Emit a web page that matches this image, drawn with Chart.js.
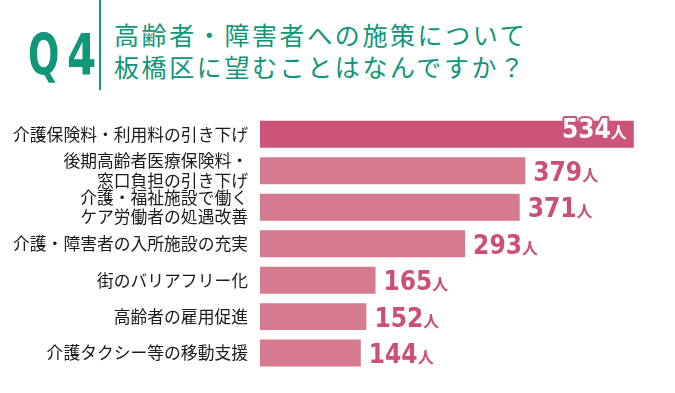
<!DOCTYPE html>
<html lang="ja">
<head>
<meta charset="UTF-8">
<title>Q4</title>
<script src="https://cdn.jsdelivr.net/npm/chart.js"></script>
<style>
    html, body { margin: 0; padding: 0; background: #fff; }
    #wrap { position: relative; width: 675px; height: 393px; overflow: hidden; }
    .q { position: absolute; top: 20px; font-family: "Liberation Sans Narrow", "DejaVu Sans Condensed", sans-serif;
         font-weight: bold; font-size: 57px; line-height: 70px; color: #109679; transform-origin: left top; }
    #q1 { left: 28px; transform: scaleX(0.72); }
    #q2 { left: 67px; transform: scaleX(0.82); }
    #bar { position: absolute; left: 99px; top: 0; width: 2px; height: 90px; background: #109679; }
    #ttl { position: absolute; left: 114px; top: 18px; font-family: "Noto Sans CJK JP", sans-serif; font-size: 25px;
           line-height: 32px; letter-spacing: 2.6px; color: #109679; white-space: nowrap; }
    canvas { position: absolute; left: 0; top: 0; }
</style>
</head>
<body>
<div id="wrap">
    <div class="q" id="q1">Q</div><div class="q" id="q2">4</div>
    <div id="bar"></div>
    <div id="ttl">高齢者・障害者への施策について<br>板橋区に望むことはなんですか？</div>
    <canvas id="myChart" width="675" height="393"></canvas>
</div>
<script>
    // 項目名
    const labels = [
        '介護保険料・利用料の引き下げ',
        ['後期高齢者医療保険料・', '窓口負担の引き下げ'],
        ['介護・福祉施設で働く', 'ケア労働者の処遇改善'],
        '介護・障害者の入所施設の充実',
        '街のバリアフリー化',
        '高齢者の雇用促進',
        '介護タクシー等の移動支援'
    ];
    // 回答数(人)
    const counts = [534, 379, 371, 293, 165, 152, 144];
    const unit = '人';

    const barColors = counts.map((v, i) => i === 0 ? '#CC5479' : '#D67A8F');
    const numFont = '"Liberation Sans Narrow", "DejaVu Sans Condensed", sans-serif';

    // 数値ラベルを描く
    const valueLabels = {
        id: 'valueLabels',
        afterDatasetsDraw(chart) {
            const ctx = chart.ctx;
            const meta = chart.getDatasetMeta(0);
            ctx.save();
            ctx.textBaseline = 'alphabetic';
            meta.data.forEach((bar, i) => {
                const num = String(counts[i]);
                ctx.font = 'bold 26px ' + numFont;
                ctx.letterSpacing = '0px';
                const wNum = ctx.measureText(num).width;
                ctx.font = 'bold 16px "Noto Sans CJK JP"';
                const wUnit = ctx.measureText(unit).width;
                let x, base;
                if (i === 0) {
                    // 一番上だけバーの中に白文字
                    x = bar.x - 7 - wNum - wUnit;
                    base = bar.y + 4;
                } else {
                    x = bar.x + 8;
                    base = bar.y + 10;
                }
                ctx.font = 'bold 26px ' + numFont;
                if (i === 0) {
                    ctx.lineJoin = 'round';
                    ctx.lineWidth = 4;
                    ctx.strokeStyle = '#CC5479';
                    ctx.strokeText(num, x, base);
                    ctx.fillStyle = '#ffffff';
                } else {
                    ctx.fillStyle = '#CC4F78';
                }
                ctx.fillText(num, x, base);
                ctx.font = 'bold 16px "Noto Sans CJK JP"';
                if (i === 0) {
                    ctx.strokeText(unit, x + wNum, base);
                }
                ctx.fillText(unit, x + wNum, base);
            });
            ctx.restore();
        }
    };

    const ctxBar = document.getElementById('myChart').getContext('2d');
    const myChart = new Chart(ctxBar, {
        type: 'bar',
        data: {
            labels: labels,
            datasets: [{
                data: counts,
                backgroundColor: barColors,
                borderWidth: 0,
                barPercentage: 1,
                categoryPercentage: 0.74
            }]
        },
        options: {
            indexAxis: 'y',
            responsive: false,
            animation: false,
            events: [],
            layout: { padding: { top: 116, bottom: 17, left: 0, right: 9 } },
            plugins: { legend: { display: false }, tooltip: { enabled: false } },
            scales: {
                x: { display: false, min: 0, max: 580 },
                y: {
                    afterFit: (scale) => { scale.width = 260; },
                    grid: { display: false, drawTicks: false },
                    border: { display: false },
                    ticks: {
                        autoSkip: false,
                        padding: 12,
                        color: '#1a1a1a',
                        font: { family: '"Noto Sans CJK JP"', size: 16.8, lineHeight: 1.15 }
                    }
                }
            }
        },
        plugins: [valueLabels]
    });
</script>
</body>
</html>
